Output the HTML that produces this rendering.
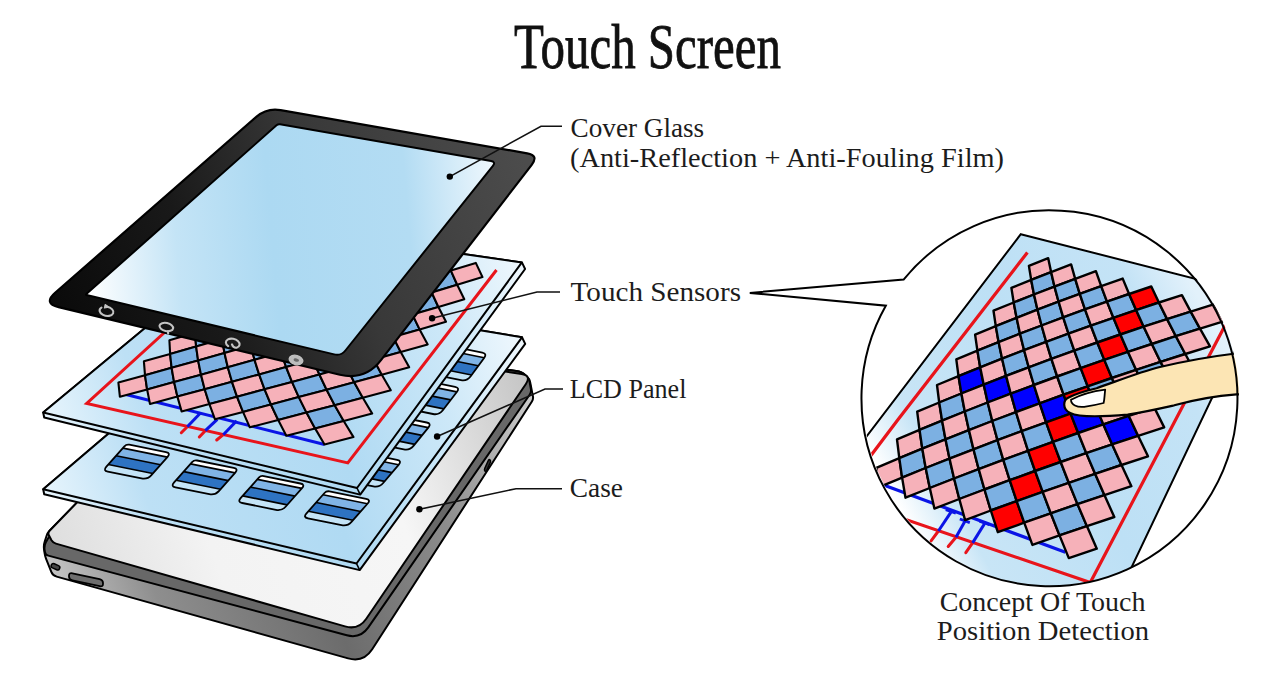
<!DOCTYPE html>
<html><head><meta charset="utf-8"><title>Touch Screen</title>
<style>html,body{margin:0;padding:0;background:#fff;overflow:hidden}svg{display:block}</style></head>
<body><svg width="1287" height="675" viewBox="0 0 1287 675"><defs>
<linearGradient id="gScreen" gradientUnits="userSpaceOnUse" x1="85" y1="250" x2="500" y2="215">
<stop offset="0" stop-color="#ffffff"/><stop offset="0.22" stop-color="#c4e4f6"/><stop offset="0.45" stop-color="#acd9f2"/><stop offset="0.78" stop-color="#b3dcf3"/><stop offset="1" stop-color="#f0f8fd"/></linearGradient>
<linearGradient id="gBezel" gradientUnits="userSpaceOnUse" x1="60" y1="330" x2="520" y2="150">
<stop offset="0" stop-color="#0a0a0a"/><stop offset="0.3" stop-color="#191919"/><stop offset="0.6" stop-color="#383838"/><stop offset="1" stop-color="#4c4c4c"/></linearGradient>
<linearGradient id="gSheet" gradientUnits="userSpaceOnUse" x1="40" y1="420" x2="520" y2="260">
<stop offset="0" stop-color="#eaf6fd"/><stop offset="0.2" stop-color="#bde0f5"/><stop offset="0.55" stop-color="#b0daf3"/><stop offset="0.82" stop-color="#cde8f8"/><stop offset="1" stop-color="#eef7fd"/></linearGradient>
<linearGradient id="gSheet2" gradientUnits="userSpaceOnUse" x1="40" y1="500" x2="520" y2="340">
<stop offset="0" stop-color="#eaf6fd"/><stop offset="0.2" stop-color="#bde0f5"/><stop offset="0.55" stop-color="#b0daf3"/><stop offset="0.82" stop-color="#cde8f8"/><stop offset="1" stop-color="#eef7fd"/></linearGradient>
<linearGradient id="gCaseTop" gradientUnits="userSpaceOnUse" x1="50" y1="540" x2="525" y2="380">
<stop offset="0" stop-color="#dedede"/><stop offset="0.3" stop-color="#f3f3f3"/><stop offset="0.68" stop-color="#f6f6f6"/><stop offset="1" stop-color="#c6c6c6"/></linearGradient>
<linearGradient id="gCaseSide" gradientUnits="userSpaceOnUse" x1="50" y1="570" x2="530" y2="400">
<stop offset="0" stop-color="#c4c4c4"/><stop offset="0.18" stop-color="#8e8e8e"/><stop offset="0.5" stop-color="#6c6c6c"/><stop offset="0.76" stop-color="#8c8c8c"/><stop offset="1" stop-color="#cacaca"/></linearGradient>
<linearGradient id="gCircSheet" gradientUnits="userSpaceOnUse" x1="880" y1="470" x2="1200" y2="300">
<stop offset="0" stop-color="#ffffff"/><stop offset="0.14" stop-color="#c8e5f6"/><stop offset="0.5" stop-color="#bde0f5"/><stop offset="0.85" stop-color="#c4e3f6"/><stop offset="1" stop-color="#e2f1fb"/></linearGradient>
<clipPath id="cCirc"><circle cx="1051" cy="398" r="188"/></clipPath>
</defs>
<path d="M244.1 329.9L516.1 371.1Q522 372 525.4 375.1L527.3 377Q529.5 379 530.1 381.9L532.9 396.1Q533.5 399 531.9 401.5L372.2 649.3Q363.6 662.7 348.1 658.4L56.7 576.6Q52.8 575.5 51.3 571.8L46.1 558.8Q45 556 44.6 553L44 549Q43.5 545 44.8 541.2L46.6 535.8Q47.5 533 49.6 530.8Z" fill="url(#gCaseSide)" stroke="#000" stroke-width="2" stroke-linejoin="round"/>
<path d="M244.1 329.9L516.1 371.1Q522 372 525.1 375.1L526.9 376.9Q529 379 529.6 381.9L530.9 389.1Q531.5 392 529.8 394.5L368.3 627.4Q360.3 638.9 346.8 635.3L48.3 555.6Q45.4 554.8 44.9 551.8L44.6 550Q44 546 45.8 542.4L46.7 540.7Q48 538 50.1 535.8Z" fill="#686868" stroke="#000" stroke-width="2" stroke-linejoin="round"/>
<path d="M244.1 329.9L521.6 374.1Q531.5 375.7 525.9 384L366.3 618.7Q358.4 630.3 345 626.4L55.9 543.6Q53 542.8 51.5 540.2L49 535.6Q47.5 533 49.6 530.8Z" fill="url(#gCaseTop)" stroke="#000" stroke-width="2" stroke-linejoin="round"/>
<rect x="51" y="564.5" width="9" height="4.5" rx="2.2" transform="rotate(24 55.5 566.7)" fill="#444" stroke="#000" stroke-width="1.5"/>
<path d="M69 575.6Q69 572.5 72.4 573.3L99.6 579.2Q103 580 103 583.1L103 583.9Q103 587 99.6 586.2L72.4 580.3Q69 579.5 69 576.4Z" fill="#6e6e6e" stroke="#000" stroke-width="1.8"/>
<path d="M488.2 460.8Q489 459 489.9 459.9L490.1 460.1Q491 461 490.2 462.8L486.8 470.2Q486 472 485.1 471.1L484.9 470.9Q484 470 484.8 468.2Z" fill="#333" stroke="#000" stroke-width="1.5"/>
<polygon points="43.2,489.2 270.6,295.4 522,337.3 525.2,343.9 359.7,570.1 44.2,494.2" fill="url(#gSheet2)" stroke="#000" stroke-width="2" stroke-linejoin="round"/>
<polygon points="43.2,489.2 270.6,295.4 522,337.3 356.5,563.5" fill="url(#gSheet2)" stroke="#000" stroke-width="2" stroke-linejoin="round"/>
<line x1="356.5" y1="563.5" x2="359.7" y2="570.1" stroke="#000" stroke-width="1.6"/>
<clipPath id="cb04"><path d="M260.4 301.2Q262.2 298.8 265.1 299.4L301.8 306.8Q306.7 307.8 303.7 311.9L289.9 330.7Q286.4 335.5 280.5 334.3L246.8 327.5Q241.9 326.5 244.8 322.5Z"/></clipPath>
<g clip-path="url(#cb04)"><path d="M260.4 301.2Q262.2 298.8 265.1 299.4L301.8 306.8Q306.7 307.8 303.7 311.9L289.9 330.7Q286.4 335.5 280.5 334.3L246.8 327.5Q241.9 326.5 244.8 322.5Z" fill="#cfe7f7"/><polygon points="262.2,298.8 306.7,307.8 303.6,312 259.1,303" fill="#ffffff"/><polygon points="259.1,303 303.6,312 297.7,320 253.2,311" fill="#80b4e6"/><polygon points="253.2,311 297.7,320 291,329.2 246.5,320.2" fill="#2e73c2"/><polygon points="246.5,320.2 291,329.2 286.4,335.5 241.9,326.5" fill="#c4e4f7"/><line x1="259.1" y1="303" x2="303.6" y2="312" stroke="#000" stroke-width="1.6"/><line x1="253.2" y1="311" x2="297.7" y2="320" stroke="#000" stroke-width="1.6"/><line x1="246.5" y1="320.2" x2="291" y2="329.2" stroke="#000" stroke-width="1.6"/></g>
<path d="M260.4 301.2Q262.2 298.8 265.1 299.4L301.8 306.8Q306.7 307.8 303.7 311.9L289.9 330.7Q286.4 335.5 280.5 334.3L246.8 327.5Q241.9 326.5 244.8 322.5Z" fill="none" stroke="#000" stroke-width="1.8"/>
<clipPath id="cb14"><path d="M321.4 316.7Q323.2 314.3 326.1 314.9L362.8 322.3Q367.7 323.3 364.7 327.3L350.9 346.2Q347.4 351 341.5 349.8L307.8 343Q302.9 342 305.9 338Z"/></clipPath>
<g clip-path="url(#cb14)"><path d="M321.4 316.7Q323.2 314.3 326.1 314.9L362.8 322.3Q367.7 323.3 364.7 327.3L350.9 346.2Q347.4 351 341.5 349.8L307.8 343Q302.9 342 305.9 338Z" fill="#cfe7f7"/><polygon points="323.2,314.3 367.7,323.3 364.7,327.5 320.2,318.5" fill="#ffffff"/><polygon points="320.2,318.5 364.7,327.5 358.8,335.5 314.3,326.5" fill="#80b4e6"/><polygon points="314.3,326.5 358.8,335.5 352.1,344.6 307.6,335.6" fill="#2e73c2"/><polygon points="307.6,335.6 352.1,344.6 347.4,351 302.9,342" fill="#c4e4f7"/><line x1="320.2" y1="318.5" x2="364.7" y2="327.5" stroke="#000" stroke-width="1.6"/><line x1="314.3" y1="326.5" x2="358.8" y2="335.5" stroke="#000" stroke-width="1.6"/><line x1="307.6" y1="335.6" x2="352.1" y2="344.6" stroke="#000" stroke-width="1.6"/></g>
<path d="M321.4 316.7Q323.2 314.3 326.1 314.9L362.8 322.3Q367.7 323.3 364.7 327.3L350.9 346.2Q347.4 351 341.5 349.8L307.8 343Q302.9 342 305.9 338Z" fill="none" stroke="#000" stroke-width="1.8"/>
<clipPath id="cb24"><path d="M381.6 332Q383.4 329.6 386.3 330.2L423 337.6Q427.9 338.6 424.9 342.6L411.1 361.4Q407.6 366.3 401.7 365.1L368 358.3Q363.1 357.3 366 353.2Z"/></clipPath>
<g clip-path="url(#cb24)"><path d="M381.6 332Q383.4 329.6 386.3 330.2L423 337.6Q427.9 338.6 424.9 342.6L411.1 361.4Q407.6 366.3 401.7 365.1L368 358.3Q363.1 357.3 366 353.2Z" fill="#cfe7f7"/><polygon points="383.4,329.6 427.9,338.6 424.8,342.7 380.3,333.7" fill="#ffffff"/><polygon points="380.3,333.7 424.8,342.7 418.9,350.8 374.4,341.8" fill="#80b4e6"/><polygon points="374.4,341.8 418.9,350.8 412.2,359.9 367.7,350.9" fill="#2e73c2"/><polygon points="367.7,350.9 412.2,359.9 407.6,366.3 363.1,357.3" fill="#c4e4f7"/><line x1="380.3" y1="333.7" x2="424.8" y2="342.7" stroke="#000" stroke-width="1.6"/><line x1="374.4" y1="341.8" x2="418.9" y2="350.8" stroke="#000" stroke-width="1.6"/><line x1="367.7" y1="350.9" x2="412.2" y2="359.9" stroke="#000" stroke-width="1.6"/></g>
<path d="M381.6 332Q383.4 329.6 386.3 330.2L423 337.6Q427.9 338.6 424.9 342.6L411.1 361.4Q407.6 366.3 401.7 365.1L368 358.3Q363.1 357.3 366 353.2Z" fill="none" stroke="#000" stroke-width="1.8"/>
<clipPath id="cb34"><path d="M440.9 347Q442.7 344.6 445.7 345.2L482.3 352.6Q487.2 353.6 484.3 357.7L470.5 376.5Q466.9 381.3 461 380.1L427.3 373.3Q422.4 372.3 425.4 368.3Z"/></clipPath>
<g clip-path="url(#cb34)"><path d="M440.9 347Q442.7 344.6 445.7 345.2L482.3 352.6Q487.2 353.6 484.3 357.7L470.5 376.5Q466.9 381.3 461 380.1L427.3 373.3Q422.4 372.3 425.4 368.3Z" fill="#cfe7f7"/><polygon points="442.7,344.6 487.2,353.6 484.2,357.8 439.7,348.8" fill="#ffffff"/><polygon points="439.7,348.8 484.2,357.8 478.3,365.8 433.8,356.8" fill="#80b4e6"/><polygon points="433.8,356.8 478.3,365.8 471.6,375 427.1,366" fill="#2e73c2"/><polygon points="427.1,366 471.6,375 466.9,381.3 422.4,372.3" fill="#c4e4f7"/><line x1="439.7" y1="348.8" x2="484.2" y2="357.8" stroke="#000" stroke-width="1.6"/><line x1="433.8" y1="356.8" x2="478.3" y2="365.8" stroke="#000" stroke-width="1.6"/><line x1="427.1" y1="366" x2="471.6" y2="375" stroke="#000" stroke-width="1.6"/></g>
<path d="M440.9 347Q442.7 344.6 445.7 345.2L482.3 352.6Q487.2 353.6 484.3 357.7L470.5 376.5Q466.9 381.3 461 380.1L427.3 373.3Q422.4 372.3 425.4 368.3Z" fill="none" stroke="#000" stroke-width="1.8"/>
<clipPath id="cb03"><path d="M228.6 335.1Q230.4 332.8 233.4 333.4L270 340.8Q274.9 341.8 271.9 345.7L257.5 364.4Q253.8 369.2 247.9 368L214.2 361.1Q209.3 360.2 212.4 356.2Z"/></clipPath>
<g clip-path="url(#cb03)"><path d="M228.6 335.1Q230.4 332.8 233.4 333.4L270 340.8Q274.9 341.8 271.9 345.7L257.5 364.4Q253.8 369.2 247.9 368L214.2 361.1Q209.3 360.2 212.4 356.2Z" fill="#cfe7f7"/><polygon points="230.4,332.8 274.9,341.8 271.8,345.9 227.3,336.9" fill="#ffffff"/><polygon points="227.3,336.9 271.8,345.9 265.6,353.8 221.1,344.8" fill="#80b4e6"/><polygon points="221.1,344.8 265.6,353.8 258.7,362.9 214.2,353.9" fill="#2e73c2"/><polygon points="214.2,353.9 258.7,362.9 253.8,369.2 209.3,360.2" fill="#c4e4f7"/><line x1="227.3" y1="336.9" x2="271.8" y2="345.9" stroke="#000" stroke-width="1.6"/><line x1="221.1" y1="344.8" x2="265.6" y2="353.8" stroke="#000" stroke-width="1.6"/><line x1="214.2" y1="353.9" x2="258.7" y2="362.9" stroke="#000" stroke-width="1.6"/></g>
<path d="M228.6 335.1Q230.4 332.8 233.4 333.4L270 340.8Q274.9 341.8 271.9 345.7L257.5 364.4Q253.8 369.2 247.9 368L214.2 361.1Q209.3 360.2 212.4 356.2Z" fill="none" stroke="#000" stroke-width="1.8"/>
<clipPath id="cb13"><path d="M291.2 350.7Q293 348.3 295.9 348.9L332.6 356.3Q337.5 357.3 334.5 361.3L320.1 380Q316.4 384.7 310.5 383.5L276.8 376.7Q271.9 375.7 275 371.8Z"/></clipPath>
<g clip-path="url(#cb13)"><path d="M291.2 350.7Q293 348.3 295.9 348.9L332.6 356.3Q337.5 357.3 334.5 361.3L320.1 380Q316.4 384.7 310.5 383.5L276.8 376.7Q271.9 375.7 275 371.8Z" fill="#cfe7f7"/><polygon points="293,348.3 337.5,357.3 334.3,361.4 289.8,352.4" fill="#ffffff"/><polygon points="289.8,352.4 334.3,361.4 328.2,369.4 283.7,360.4" fill="#80b4e6"/><polygon points="283.7,360.4 328.2,369.4 321.3,378.4 276.8,369.4" fill="#2e73c2"/><polygon points="276.8,369.4 321.3,378.4 316.4,384.7 271.9,375.7" fill="#c4e4f7"/><line x1="289.8" y1="352.4" x2="334.3" y2="361.4" stroke="#000" stroke-width="1.6"/><line x1="283.7" y1="360.4" x2="328.2" y2="369.4" stroke="#000" stroke-width="1.6"/><line x1="276.8" y1="369.4" x2="321.3" y2="378.4" stroke="#000" stroke-width="1.6"/></g>
<path d="M291.2 350.7Q293 348.3 295.9 348.9L332.6 356.3Q337.5 357.3 334.5 361.3L320.1 380Q316.4 384.7 310.5 383.5L276.8 376.7Q271.9 375.7 275 371.8Z" fill="none" stroke="#000" stroke-width="1.8"/>
<clipPath id="cb23"><path d="M352.9 366.1Q354.7 363.7 357.6 364.3L394.3 371.7Q399.2 372.7 396.1 376.6L381.7 395.3Q378.1 400.1 372.2 398.9L338.5 392.1Q333.6 391.1 336.6 387.1Z"/></clipPath>
<g clip-path="url(#cb23)"><path d="M352.9 366.1Q354.7 363.7 357.6 364.3L394.3 371.7Q399.2 372.7 396.1 376.6L381.7 395.3Q378.1 400.1 372.2 398.9L338.5 392.1Q333.6 391.1 336.6 387.1Z" fill="#cfe7f7"/><polygon points="354.7,363.7 399.2,372.7 396,376.8 351.5,367.8" fill="#ffffff"/><polygon points="351.5,367.8 396,376.8 389.9,384.7 345.4,375.7" fill="#80b4e6"/><polygon points="345.4,375.7 389.9,384.7 382.9,393.8 338.4,384.8" fill="#2e73c2"/><polygon points="338.4,384.8 382.9,393.8 378.1,400.1 333.6,391.1" fill="#c4e4f7"/><line x1="351.5" y1="367.8" x2="396" y2="376.8" stroke="#000" stroke-width="1.6"/><line x1="345.4" y1="375.7" x2="389.9" y2="384.7" stroke="#000" stroke-width="1.6"/><line x1="338.4" y1="384.8" x2="382.9" y2="393.8" stroke="#000" stroke-width="1.6"/></g>
<path d="M352.9 366.1Q354.7 363.7 357.6 364.3L394.3 371.7Q399.2 372.7 396.1 376.6L381.7 395.3Q378.1 400.1 372.2 398.9L338.5 392.1Q333.6 391.1 336.6 387.1Z" fill="none" stroke="#000" stroke-width="1.8"/>
<clipPath id="cb33"><path d="M413.7 381.2Q415.5 378.8 418.4 379.4L455.1 386.8Q460 387.8 457 391.8L442.6 410.5Q438.9 415.2 433 414L399.3 407.2Q394.4 406.2 397.5 402.3Z"/></clipPath>
<g clip-path="url(#cb33)"><path d="M413.7 381.2Q415.5 378.8 418.4 379.4L455.1 386.8Q460 387.8 457 391.8L442.6 410.5Q438.9 415.2 433 414L399.3 407.2Q394.4 406.2 397.5 402.3Z" fill="#cfe7f7"/><polygon points="415.5,378.8 460,387.8 456.8,391.9 412.3,382.9" fill="#ffffff"/><polygon points="412.3,382.9 456.8,391.9 450.7,399.9 406.2,390.9" fill="#80b4e6"/><polygon points="406.2,390.9 450.7,399.9 443.8,408.9 399.3,399.9" fill="#2e73c2"/><polygon points="399.3,399.9 443.8,408.9 438.9,415.2 394.4,406.2" fill="#c4e4f7"/><line x1="412.3" y1="382.9" x2="456.8" y2="391.9" stroke="#000" stroke-width="1.6"/><line x1="406.2" y1="390.9" x2="450.7" y2="399.9" stroke="#000" stroke-width="1.6"/><line x1="399.3" y1="399.9" x2="443.8" y2="408.9" stroke="#000" stroke-width="1.6"/></g>
<path d="M413.7 381.2Q415.5 378.8 418.4 379.4L455.1 386.8Q460 387.8 457 391.8L442.6 410.5Q438.9 415.2 433 414L399.3 407.2Q394.4 406.2 397.5 402.3Z" fill="none" stroke="#000" stroke-width="1.8"/>
<clipPath id="cb02"><path d="M195.4 370.5Q197.3 368.2 200.2 368.8L236.9 376.2Q241.8 377.2 238.6 381.1L223.7 399.6Q219.9 404.3 214 403.1L180.3 396.3Q175.4 395.3 178.5 391.4Z"/></clipPath>
<g clip-path="url(#cb02)"><path d="M195.4 370.5Q197.3 368.2 200.2 368.8L236.9 376.2Q241.8 377.2 238.6 381.1L223.7 399.6Q219.9 404.3 214 403.1L180.3 396.3Q175.4 395.3 178.5 391.4Z" fill="#cfe7f7"/><polygon points="197.3,368.2 241.8,377.2 238.5,381.3 194,372.3" fill="#ffffff"/><polygon points="194,372.3 238.5,381.3 232.1,389.1 187.6,380.1" fill="#80b4e6"/><polygon points="187.6,380.1 232.1,389.1 224.9,398.1 180.4,389.1" fill="#2e73c2"/><polygon points="180.4,389.1 224.9,398.1 219.9,404.3 175.4,395.3" fill="#c4e4f7"/><line x1="194" y1="372.3" x2="238.5" y2="381.3" stroke="#000" stroke-width="1.6"/><line x1="187.6" y1="380.1" x2="232.1" y2="389.1" stroke="#000" stroke-width="1.6"/><line x1="180.4" y1="389.1" x2="224.9" y2="398.1" stroke="#000" stroke-width="1.6"/></g>
<path d="M195.4 370.5Q197.3 368.2 200.2 368.8L236.9 376.2Q241.8 377.2 238.6 381.1L223.7 399.6Q219.9 404.3 214 403.1L180.3 396.3Q175.4 395.3 178.5 391.4Z" fill="none" stroke="#000" stroke-width="1.8"/>
<clipPath id="cb12"><path d="M259.6 386.2Q261.5 383.9 264.4 384.5L301.1 391.9Q306 392.9 302.8 396.8L287.9 415.3Q284.1 420 278.2 418.8L244.5 412Q239.6 411 242.7 407.1Z"/></clipPath>
<g clip-path="url(#cb12)"><path d="M259.6 386.2Q261.5 383.9 264.4 384.5L301.1 391.9Q306 392.9 302.8 396.8L287.9 415.3Q284.1 420 278.2 418.8L244.5 412Q239.6 411 242.7 407.1Z" fill="#cfe7f7"/><polygon points="261.5,383.9 306,392.9 302.7,396.9 258.2,387.9" fill="#ffffff"/><polygon points="258.2,387.9 302.7,396.9 296.4,404.8 251.9,395.8" fill="#80b4e6"/><polygon points="251.9,395.8 296.4,404.8 289.1,413.7 244.6,404.7" fill="#2e73c2"/><polygon points="244.6,404.7 289.1,413.7 284.1,420 239.6,411" fill="#c4e4f7"/><line x1="258.2" y1="387.9" x2="302.7" y2="396.9" stroke="#000" stroke-width="1.6"/><line x1="251.9" y1="395.8" x2="296.4" y2="404.8" stroke="#000" stroke-width="1.6"/><line x1="244.6" y1="404.7" x2="289.1" y2="413.7" stroke="#000" stroke-width="1.6"/></g>
<path d="M259.6 386.2Q261.5 383.9 264.4 384.5L301.1 391.9Q306 392.9 302.8 396.8L287.9 415.3Q284.1 420 278.2 418.8L244.5 412Q239.6 411 242.7 407.1Z" fill="none" stroke="#000" stroke-width="1.8"/>
<clipPath id="cb22"><path d="M322.9 401.6Q324.8 399.3 327.7 399.9L364.4 407.3Q369.3 408.3 366.1 412.2L351.1 430.7Q347.4 435.4 341.5 434.2L307.8 427.4Q302.9 426.4 306 422.5Z"/></clipPath>
<g clip-path="url(#cb22)"><path d="M322.9 401.6Q324.8 399.3 327.7 399.9L364.4 407.3Q369.3 408.3 366.1 412.2L351.1 430.7Q347.4 435.4 341.5 434.2L307.8 427.4Q302.9 426.4 306 422.5Z" fill="#cfe7f7"/><polygon points="324.8,399.3 369.3,408.3 366,412.4 321.5,403.4" fill="#ffffff"/><polygon points="321.5,403.4 366,412.4 359.6,420.2 315.1,411.2" fill="#80b4e6"/><polygon points="315.1,411.2 359.6,420.2 352.4,429.2 307.9,420.2" fill="#2e73c2"/><polygon points="307.9,420.2 352.4,429.2 347.4,435.4 302.9,426.4" fill="#c4e4f7"/><line x1="321.5" y1="403.4" x2="366" y2="412.4" stroke="#000" stroke-width="1.6"/><line x1="315.1" y1="411.2" x2="359.6" y2="420.2" stroke="#000" stroke-width="1.6"/><line x1="307.9" y1="420.2" x2="352.4" y2="429.2" stroke="#000" stroke-width="1.6"/></g>
<path d="M322.9 401.6Q324.8 399.3 327.7 399.9L364.4 407.3Q369.3 408.3 366.1 412.2L351.1 430.7Q347.4 435.4 341.5 434.2L307.8 427.4Q302.9 426.4 306 422.5Z" fill="none" stroke="#000" stroke-width="1.8"/>
<clipPath id="cb32"><path d="M385.2 416.8Q387.1 414.5 390.1 415.1L426.7 422.5Q431.6 423.5 428.5 427.4L413.5 445.9Q409.7 450.6 403.8 449.4L370.1 442.6Q365.2 441.6 368.4 437.7Z"/></clipPath>
<g clip-path="url(#cb32)"><path d="M385.2 416.8Q387.1 414.5 390.1 415.1L426.7 422.5Q431.6 423.5 428.5 427.4L413.5 445.9Q409.7 450.6 403.8 449.4L370.1 442.6Q365.2 441.6 368.4 437.7Z" fill="#cfe7f7"/><polygon points="387.1,414.5 431.6,423.5 428.3,427.6 383.8,418.6" fill="#ffffff"/><polygon points="383.8,418.6 428.3,427.6 422,435.4 377.5,426.4" fill="#80b4e6"/><polygon points="377.5,426.4 422,435.4 414.8,444.4 370.3,435.4" fill="#2e73c2"/><polygon points="370.3,435.4 414.8,444.4 409.7,450.6 365.2,441.6" fill="#c4e4f7"/><line x1="383.8" y1="418.6" x2="428.3" y2="427.6" stroke="#000" stroke-width="1.6"/><line x1="377.5" y1="426.4" x2="422" y2="435.4" stroke="#000" stroke-width="1.6"/><line x1="370.3" y1="435.4" x2="414.8" y2="444.4" stroke="#000" stroke-width="1.6"/></g>
<path d="M385.2 416.8Q387.1 414.5 390.1 415.1L426.7 422.5Q431.6 423.5 428.5 427.4L413.5 445.9Q409.7 450.6 403.8 449.4L370.1 442.6Q365.2 441.6 368.4 437.7Z" fill="none" stroke="#000" stroke-width="1.8"/>
<clipPath id="cb01"><path d="M160.7 407.6Q162.6 405.3 165.6 405.9L202.2 413.3Q207.1 414.3 203.9 418.1L188.3 436.5Q184.4 441.1 178.6 439.9L144.8 433.1Q139.9 432.1 143.2 428.3Z"/></clipPath>
<g clip-path="url(#cb01)"><path d="M160.7 407.6Q162.6 405.3 165.6 405.9L202.2 413.3Q207.1 414.3 203.9 418.1L188.3 436.5Q184.4 441.1 178.6 439.9L144.8 433.1Q139.9 432.1 143.2 428.3Z" fill="#cfe7f7"/><polygon points="162.6,405.3 207.1,414.3 203.7,418.3 159.2,409.3" fill="#ffffff"/><polygon points="159.2,409.3 203.7,418.3 197.2,426.1 152.7,417.1" fill="#80b4e6"/><polygon points="152.7,417.1 197.2,426.1 189.7,434.9 145.2,425.9" fill="#2e73c2"/><polygon points="145.2,425.9 189.7,434.9 184.4,441.1 139.9,432.1" fill="#c4e4f7"/><line x1="159.2" y1="409.3" x2="203.7" y2="418.3" stroke="#000" stroke-width="1.6"/><line x1="152.7" y1="417.1" x2="197.2" y2="426.1" stroke="#000" stroke-width="1.6"/><line x1="145.2" y1="425.9" x2="189.7" y2="434.9" stroke="#000" stroke-width="1.6"/></g>
<path d="M160.7 407.6Q162.6 405.3 165.6 405.9L202.2 413.3Q207.1 414.3 203.9 418.1L188.3 436.5Q184.4 441.1 178.6 439.9L144.8 433.1Q139.9 432.1 143.2 428.3Z" fill="none" stroke="#000" stroke-width="1.8"/>
<clipPath id="cb11"><path d="M226.6 423.3Q228.6 421 231.5 421.6L268.2 429Q273.1 430 269.8 433.8L254.2 452.2Q250.4 456.8 244.5 455.6L210.8 448.8Q205.9 447.8 209.1 444Z"/></clipPath>
<g clip-path="url(#cb11)"><path d="M226.6 423.3Q228.6 421 231.5 421.6L268.2 429Q273.1 430 269.8 433.8L254.2 452.2Q250.4 456.8 244.5 455.6L210.8 448.8Q205.9 447.8 209.1 444Z" fill="#cfe7f7"/><polygon points="228.6,421 273.1,430 269.7,434 225.2,425" fill="#ffffff"/><polygon points="225.2,425 269.7,434 263.1,441.8 218.6,432.8" fill="#80b4e6"/><polygon points="218.6,432.8 263.1,441.8 255.6,450.7 211.1,441.7" fill="#2e73c2"/><polygon points="211.1,441.7 255.6,450.7 250.4,456.8 205.9,447.8" fill="#c4e4f7"/><line x1="225.2" y1="425" x2="269.7" y2="434" stroke="#000" stroke-width="1.6"/><line x1="218.6" y1="432.8" x2="263.1" y2="441.8" stroke="#000" stroke-width="1.6"/><line x1="211.1" y1="441.7" x2="255.6" y2="450.7" stroke="#000" stroke-width="1.6"/></g>
<path d="M226.6 423.3Q228.6 421 231.5 421.6L268.2 429Q273.1 430 269.8 433.8L254.2 452.2Q250.4 456.8 244.5 455.6L210.8 448.8Q205.9 447.8 209.1 444Z" fill="none" stroke="#000" stroke-width="1.8"/>
<clipPath id="cb21"><path d="M291.6 438.8Q293.5 436.5 296.4 437.1L333.1 444.5Q338 445.5 334.8 449.3L319.2 467.7Q315.3 472.3 309.4 471.1L275.7 464.3Q270.8 463.3 274 459.5Z"/></clipPath>
<g clip-path="url(#cb21)"><path d="M291.6 438.8Q293.5 436.5 296.4 437.1L333.1 444.5Q338 445.5 334.8 449.3L319.2 467.7Q315.3 472.3 309.4 471.1L275.7 464.3Q270.8 463.3 274 459.5Z" fill="#cfe7f7"/><polygon points="293.5,436.5 338,445.5 334.6,449.5 290.1,440.5" fill="#ffffff"/><polygon points="290.1,440.5 334.6,449.5 328,457.3 283.5,448.3" fill="#80b4e6"/><polygon points="283.5,448.3 328,457.3 320.5,466.2 276,457.2" fill="#2e73c2"/><polygon points="276,457.2 320.5,466.2 315.3,472.3 270.8,463.3" fill="#c4e4f7"/><line x1="290.1" y1="440.5" x2="334.6" y2="449.5" stroke="#000" stroke-width="1.6"/><line x1="283.5" y1="448.3" x2="328" y2="457.3" stroke="#000" stroke-width="1.6"/><line x1="276" y1="457.2" x2="320.5" y2="466.2" stroke="#000" stroke-width="1.6"/></g>
<path d="M291.6 438.8Q293.5 436.5 296.4 437.1L333.1 444.5Q338 445.5 334.8 449.3L319.2 467.7Q315.3 472.3 309.4 471.1L275.7 464.3Q270.8 463.3 274 459.5Z" fill="none" stroke="#000" stroke-width="1.8"/>
<clipPath id="cb31"><path d="M355.5 454.1Q357.5 451.8 360.4 452.4L397.1 459.8Q402 460.8 398.8 464.6L383.2 483Q379.3 487.6 373.4 486.4L339.7 479.6Q334.8 478.6 338 474.8Z"/></clipPath>
<g clip-path="url(#cb31)"><path d="M355.5 454.1Q357.5 451.8 360.4 452.4L397.1 459.8Q402 460.8 398.8 464.6L383.2 483Q379.3 487.6 373.4 486.4L339.7 479.6Q334.8 478.6 338 474.8Z" fill="#cfe7f7"/><polygon points="357.5,451.8 402,460.8 398.6,464.8 354.1,455.8" fill="#ffffff"/><polygon points="354.1,455.8 398.6,464.8 392,472.6 347.5,463.6" fill="#80b4e6"/><polygon points="347.5,463.6 392,472.6 384.5,481.4 340,472.4" fill="#2e73c2"/><polygon points="340,472.4 384.5,481.4 379.3,487.6 334.8,478.6" fill="#c4e4f7"/><line x1="354.1" y1="455.8" x2="398.6" y2="464.8" stroke="#000" stroke-width="1.6"/><line x1="347.5" y1="463.6" x2="392" y2="472.6" stroke="#000" stroke-width="1.6"/><line x1="340" y1="472.4" x2="384.5" y2="481.4" stroke="#000" stroke-width="1.6"/></g>
<path d="M355.5 454.1Q357.5 451.8 360.4 452.4L397.1 459.8Q402 460.8 398.8 464.6L383.2 483Q379.3 487.6 373.4 486.4L339.7 479.6Q334.8 478.6 338 474.8Z" fill="none" stroke="#000" stroke-width="1.8"/>
<clipPath id="cb00"><path d="M124.4 446.3Q126.4 444.1 129.3 444.7L166 452.1Q170.9 453.1 167.6 456.8L151.4 475.1Q147.4 479.6 141.5 478.4L107.8 471.6Q102.9 470.6 106.2 466.8Z"/></clipPath>
<g clip-path="url(#cb00)"><path d="M124.4 446.3Q126.4 444.1 129.3 444.7L166 452.1Q170.9 453.1 167.6 456.8L151.4 475.1Q147.4 479.6 141.5 478.4L107.8 471.6Q102.9 470.6 106.2 466.8Z" fill="#cfe7f7"/><polygon points="126.4,444.1 170.9,453.1 167.4,457.1 122.9,448.1" fill="#ffffff"/><polygon points="122.9,448.1 167.4,457.1 160.6,464.7 116.1,455.7" fill="#80b4e6"/><polygon points="116.1,455.7 160.6,464.7 152.8,473.5 108.3,464.5" fill="#2e73c2"/><polygon points="108.3,464.5 152.8,473.5 147.4,479.6 102.9,470.6" fill="#c4e4f7"/><line x1="122.9" y1="448.1" x2="167.4" y2="457.1" stroke="#000" stroke-width="1.6"/><line x1="116.1" y1="455.7" x2="160.6" y2="464.7" stroke="#000" stroke-width="1.6"/><line x1="108.3" y1="464.5" x2="152.8" y2="473.5" stroke="#000" stroke-width="1.6"/></g>
<path d="M124.4 446.3Q126.4 444.1 129.3 444.7L166 452.1Q170.9 453.1 167.6 456.8L151.4 475.1Q147.4 479.6 141.5 478.4L107.8 471.6Q102.9 470.6 106.2 466.8Z" fill="none" stroke="#000" stroke-width="1.8"/>
<clipPath id="cb10"><path d="M192.1 462.1Q194.1 459.9 197.1 460.5L233.7 467.9Q238.6 468.9 235.3 472.6L219.1 490.9Q215.1 495.4 209.3 494.2L175.5 487.4Q170.6 486.4 173.9 482.7Z"/></clipPath>
<g clip-path="url(#cb10)"><path d="M192.1 462.1Q194.1 459.9 197.1 460.5L233.7 467.9Q238.6 468.9 235.3 472.6L219.1 490.9Q215.1 495.4 209.3 494.2L175.5 487.4Q170.6 486.4 173.9 482.7Z" fill="#cfe7f7"/><polygon points="194.1,459.9 238.6,468.9 235.1,472.9 190.6,463.9" fill="#ffffff"/><polygon points="190.6,463.9 235.1,472.9 228.3,480.6 183.8,471.6" fill="#80b4e6"/><polygon points="183.8,471.6 228.3,480.6 220.5,489.3 176,480.3" fill="#2e73c2"/><polygon points="176,480.3 220.5,489.3 215.1,495.4 170.6,486.4" fill="#c4e4f7"/><line x1="190.6" y1="463.9" x2="235.1" y2="472.9" stroke="#000" stroke-width="1.6"/><line x1="183.8" y1="471.6" x2="228.3" y2="480.6" stroke="#000" stroke-width="1.6"/><line x1="176" y1="480.3" x2="220.5" y2="489.3" stroke="#000" stroke-width="1.6"/></g>
<path d="M192.1 462.1Q194.1 459.9 197.1 460.5L233.7 467.9Q238.6 468.9 235.3 472.6L219.1 490.9Q215.1 495.4 209.3 494.2L175.5 487.4Q170.6 486.4 173.9 482.7Z" fill="none" stroke="#000" stroke-width="1.8"/>
<clipPath id="cb20"><path d="M258.8 477.7Q260.8 475.5 263.8 476.1L300.4 483.5Q305.3 484.5 302 488.2L285.8 506.5Q281.8 511 275.9 509.8L242.2 503Q237.3 502 240.6 498.2Z"/></clipPath>
<g clip-path="url(#cb20)"><path d="M258.8 477.7Q260.8 475.5 263.8 476.1L300.4 483.5Q305.3 484.5 302 488.2L285.8 506.5Q281.8 511 275.9 509.8L242.2 503Q237.3 502 240.6 498.2Z" fill="#cfe7f7"/><polygon points="260.8,475.5 305.3,484.5 301.8,488.4 257.3,479.4" fill="#ffffff"/><polygon points="257.3,479.4 301.8,488.4 295,496.1 250.5,487.1" fill="#80b4e6"/><polygon points="250.5,487.1 295,496.1 287.2,504.9 242.7,495.9" fill="#2e73c2"/><polygon points="242.7,495.9 287.2,504.9 281.8,511 237.3,502" fill="#c4e4f7"/><line x1="257.3" y1="479.4" x2="301.8" y2="488.4" stroke="#000" stroke-width="1.6"/><line x1="250.5" y1="487.1" x2="295" y2="496.1" stroke="#000" stroke-width="1.6"/><line x1="242.7" y1="495.9" x2="287.2" y2="504.9" stroke="#000" stroke-width="1.6"/></g>
<path d="M258.8 477.7Q260.8 475.5 263.8 476.1L300.4 483.5Q305.3 484.5 302 488.2L285.8 506.5Q281.8 511 275.9 509.8L242.2 503Q237.3 502 240.6 498.2Z" fill="none" stroke="#000" stroke-width="1.8"/>
<clipPath id="cb30"><path d="M324.5 493Q326.5 490.8 329.5 491.4L366.1 498.8Q371 499.8 367.7 503.5L351.5 521.8Q347.5 526.3 341.6 525.1L307.9 518.3Q303 517.3 306.3 513.6Z"/></clipPath>
<g clip-path="url(#cb30)"><path d="M324.5 493Q326.5 490.8 329.5 491.4L366.1 498.8Q371 499.8 367.7 503.5L351.5 521.8Q347.5 526.3 341.6 525.1L307.9 518.3Q303 517.3 306.3 513.6Z" fill="#cfe7f7"/><polygon points="326.5,490.8 371,499.8 367.5,503.8 323,494.8" fill="#ffffff"/><polygon points="323,494.8 367.5,503.8 360.7,511.5 316.2,502.5" fill="#80b4e6"/><polygon points="316.2,502.5 360.7,511.5 352.9,520.2 308.4,511.2" fill="#2e73c2"/><polygon points="308.4,511.2 352.9,520.2 347.5,526.3 303,517.3" fill="#c4e4f7"/><line x1="323" y1="494.8" x2="367.5" y2="503.8" stroke="#000" stroke-width="1.6"/><line x1="316.2" y1="502.5" x2="360.7" y2="511.5" stroke="#000" stroke-width="1.6"/><line x1="308.4" y1="511.2" x2="352.9" y2="520.2" stroke="#000" stroke-width="1.6"/></g>
<path d="M324.5 493Q326.5 490.8 329.5 491.4L366.1 498.8Q371 499.8 367.7 503.5L351.5 521.8Q347.5 526.3 341.6 525.1L307.9 518.3Q303 517.3 306.3 513.6Z" fill="none" stroke="#000" stroke-width="1.8"/>
<polygon points="43.2,412.5 268,226 521.9,262.4 525.1,269 360.2,494.6 44.2,417.5" fill="url(#gSheet)" stroke="#000" stroke-width="2" stroke-linejoin="round"/>
<polygon points="43.2,412.5 268,226 521.9,262.4 357,488" fill="url(#gSheet)" stroke="#000" stroke-width="2" stroke-linejoin="round"/>
<line x1="357" y1="488" x2="360.2" y2="494.6" stroke="#000" stroke-width="1.6"/>
<polyline points="233,270 86.7,403.5 347.8,462.9 496.5,270" fill="none" stroke="#e8141b" stroke-width="3" stroke-linejoin="miter"/>
<polyline points="126,394.5 324.5,444.5" fill="none" stroke="#0a14e6" stroke-width="3"/>
<line x1="187.3" y1="426.7" x2="181.3" y2="432.7" stroke="#e8141b" stroke-width="3" stroke-linecap="round"/>
<line x1="200.7" y1="412.7" x2="187.3" y2="426.7" stroke="#0a14e6" stroke-width="3"/>
<line x1="205.3" y1="430.7" x2="199.3" y2="437" stroke="#e8141b" stroke-width="3" stroke-linecap="round"/>
<line x1="217.3" y1="419.3" x2="205.3" y2="430.7" stroke="#0a14e6" stroke-width="3"/>
<line x1="223.3" y1="434.7" x2="216.7" y2="440" stroke="#e8141b" stroke-width="3" stroke-linecap="round"/>
<line x1="236.7" y1="420.7" x2="223.3" y2="434.7" stroke="#0a14e6" stroke-width="3"/>
<polygon points="118.4,382.6 145,375.2 147.1,389.4 119.9,396.8" fill="#f6b1b9" stroke="#000" stroke-width="2.1" stroke-linejoin="round"/><polygon points="143.9,361.3 170.1,353.9 171.6,367.8 145,375.2" fill="#f6b1b9" stroke="#000" stroke-width="2.1" stroke-linejoin="round"/><polygon points="145,375.2 171.6,367.8 174.1,382.1 147.1,389.4" fill="#7cb0e2" stroke="#000" stroke-width="2.1" stroke-linejoin="round"/><polygon points="147.1,389.4 174.1,382.1 177.4,396.6 150,404" fill="#f6b1b9" stroke="#000" stroke-width="2.1" stroke-linejoin="round"/><polygon points="169.4,340.2 195,332.8 196.1,346.4 170.1,353.9" fill="#f6b1b9" stroke="#000" stroke-width="2.1" stroke-linejoin="round"/><polygon points="170.1,353.9 196.1,346.4 198.1,360.4 171.6,367.8" fill="#7cb0e2" stroke="#000" stroke-width="2.1" stroke-linejoin="round"/><polygon points="171.6,367.8 198.1,360.4 201,374.7 174.1,382.1" fill="#f6b1b9" stroke="#000" stroke-width="2.1" stroke-linejoin="round"/><polygon points="174.1,382.1 201,374.7 204.7,389.2 177.4,396.6" fill="#7cb0e2" stroke="#000" stroke-width="2.1" stroke-linejoin="round"/><polygon points="177.4,396.6 204.7,389.2 209.4,404.1 181.6,411.4" fill="#f6b1b9" stroke="#000" stroke-width="2.1" stroke-linejoin="round"/><polygon points="194.8,319.4 219.9,311.9 220.5,325.3 195,332.8" fill="#f6b1b9" stroke="#000" stroke-width="2.1" stroke-linejoin="round"/><polygon points="195,332.8 220.5,325.3 222.1,339 196.1,346.4" fill="#7cb0e2" stroke="#000" stroke-width="2.1" stroke-linejoin="round"/><polygon points="196.1,346.4 222.1,339 224.5,353 198.1,360.4" fill="#f6b1b9" stroke="#000" stroke-width="2.1" stroke-linejoin="round"/><polygon points="198.1,360.4 224.5,353 227.8,367.3 201,374.7" fill="#7cb0e2" stroke="#000" stroke-width="2.1" stroke-linejoin="round"/><polygon points="201,374.7 227.8,367.3 232,381.8 204.7,389.2" fill="#f6b1b9" stroke="#000" stroke-width="2.1" stroke-linejoin="round"/><polygon points="204.7,389.2 232,381.8 237,396.7 209.4,404.1" fill="#7cb0e2" stroke="#000" stroke-width="2.1" stroke-linejoin="round"/><polygon points="209.4,404.1 237,396.7 243,411.9 214.9,419.2" fill="#f6b1b9" stroke="#000" stroke-width="2.1" stroke-linejoin="round"/><polygon points="220.1,298.7 244.7,291.2 244.9,304.3 219.9,311.9" fill="#f6b1b9" stroke="#000" stroke-width="2.1" stroke-linejoin="round"/><polygon points="219.9,311.9 244.9,304.3 246,317.8 220.5,325.3" fill="#7cb0e2" stroke="#000" stroke-width="2.1" stroke-linejoin="round"/><polygon points="220.5,325.3 246,317.8 247.9,331.5 222.1,339" fill="#f6b1b9" stroke="#000" stroke-width="2.1" stroke-linejoin="round"/><polygon points="222.1,339 247.9,331.5 250.8,345.5 224.5,353" fill="#7cb0e2" stroke="#000" stroke-width="2.1" stroke-linejoin="round"/><polygon points="224.5,353 250.8,345.5 254.5,359.8 227.8,367.3" fill="#f6b1b9" stroke="#000" stroke-width="2.1" stroke-linejoin="round"/><polygon points="227.8,367.3 254.5,359.8 259.1,374.4 232,381.8" fill="#7cb0e2" stroke="#000" stroke-width="2.1" stroke-linejoin="round"/><polygon points="232,381.8 259.1,374.4 264.6,389.3 237,396.7" fill="#f6b1b9" stroke="#000" stroke-width="2.1" stroke-linejoin="round"/><polygon points="237,396.7 264.6,389.3 270.9,404.5 243,411.9" fill="#7cb0e2" stroke="#000" stroke-width="2.1" stroke-linejoin="round"/><polygon points="243,411.9 270.9,404.5 278.2,420 249.8,427.3" fill="#f6b1b9" stroke="#000" stroke-width="2.1" stroke-linejoin="round"/><polygon points="245.4,278.3 269.4,270.7 269.2,283.6 244.7,291.2" fill="#f6b1b9" stroke="#000" stroke-width="2.1" stroke-linejoin="round"/><polygon points="244.7,291.2 269.2,283.6 269.8,296.7 244.9,304.3" fill="#7cb0e2" stroke="#000" stroke-width="2.1" stroke-linejoin="round"/><polygon points="244.9,304.3 269.8,296.7 271.3,310.2 246,317.8" fill="#f6b1b9" stroke="#000" stroke-width="2.1" stroke-linejoin="round"/><polygon points="246,317.8 271.3,310.2 273.7,324 247.9,331.5" fill="#7cb0e2" stroke="#000" stroke-width="2.1" stroke-linejoin="round"/><polygon points="247.9,331.5 273.7,324 276.9,338 250.8,345.5" fill="#f6b1b9" stroke="#000" stroke-width="2.1" stroke-linejoin="round"/><polygon points="250.8,345.5 276.9,338 281.1,352.4 254.5,359.8" fill="#7cb0e2" stroke="#000" stroke-width="2.1" stroke-linejoin="round"/><polygon points="254.5,359.8 281.1,352.4 286.1,367 259.1,374.4" fill="#f6b1b9" stroke="#000" stroke-width="2.1" stroke-linejoin="round"/><polygon points="259.1,374.4 286.1,367 292,381.9 264.6,389.3" fill="#7cb0e2" stroke="#000" stroke-width="2.1" stroke-linejoin="round"/><polygon points="264.6,389.3 292,381.9 298.8,397.1 270.9,404.5" fill="#f6b1b9" stroke="#000" stroke-width="2.1" stroke-linejoin="round"/><polygon points="270.9,404.5 298.8,397.1 306.5,412.6 278.2,420" fill="#7cb0e2" stroke="#000" stroke-width="2.1" stroke-linejoin="round"/><polygon points="278.2,420 306.5,412.6 315.1,428.4 286.3,435.7" fill="#f6b1b9" stroke="#000" stroke-width="2.1" stroke-linejoin="round"/><polygon points="270.6,258.1 294.1,250.4 293.4,263 269.4,270.7" fill="#f6b1b9" stroke="#000" stroke-width="2.1" stroke-linejoin="round"/><polygon points="269.4,270.7 293.4,263 293.5,275.9 269.2,283.6" fill="#7cb0e2" stroke="#000" stroke-width="2.1" stroke-linejoin="round"/><polygon points="269.2,283.6 293.5,275.9 294.6,289.1 269.8,296.7" fill="#f6b1b9" stroke="#000" stroke-width="2.1" stroke-linejoin="round"/><polygon points="269.8,296.7 294.6,289.1 296.5,302.6 271.3,310.2" fill="#7cb0e2" stroke="#000" stroke-width="2.1" stroke-linejoin="round"/><polygon points="271.3,310.2 296.5,302.6 299.3,316.4 273.7,324" fill="#f6b1b9" stroke="#000" stroke-width="2.1" stroke-linejoin="round"/><polygon points="273.7,324 299.3,316.4 303,330.5 276.9,338" fill="#7cb0e2" stroke="#000" stroke-width="2.1" stroke-linejoin="round"/><polygon points="276.9,338 303,330.5 307.6,344.9 281.1,352.4" fill="#f6b1b9" stroke="#000" stroke-width="2.1" stroke-linejoin="round"/><polygon points="281.1,352.4 307.6,344.9 313,359.5 286.1,367" fill="#7cb0e2" stroke="#000" stroke-width="2.1" stroke-linejoin="round"/><polygon points="286.1,367 313,359.5 319.4,374.5 292,381.9" fill="#f6b1b9" stroke="#000" stroke-width="2.1" stroke-linejoin="round"/><polygon points="292,381.9 319.4,374.5 326.6,389.7 298.8,397.1" fill="#7cb0e2" stroke="#000" stroke-width="2.1" stroke-linejoin="round"/><polygon points="298.8,397.1 326.6,389.7 334.7,405.2 306.5,412.6" fill="#f6b1b9" stroke="#000" stroke-width="2.1" stroke-linejoin="round"/><polygon points="306.5,412.6 334.7,405.2 343.7,421 315.1,428.4" fill="#7cb0e2" stroke="#000" stroke-width="2.1" stroke-linejoin="round"/><polygon points="315.1,428.4 343.7,421 353.5,437.1 324.5,444.5" fill="#f6b1b9" stroke="#000" stroke-width="2.1" stroke-linejoin="round"/><polygon points="295.7,238.1 318.7,230.4 317.5,242.7 294.1,250.4" fill="#f6b1b9" stroke="#000" stroke-width="2.1" stroke-linejoin="round"/><polygon points="294.1,250.4 317.5,242.7 317.2,255.4 293.4,263" fill="#7cb0e2" stroke="#000" stroke-width="2.1" stroke-linejoin="round"/><polygon points="293.4,263 317.2,255.4 317.8,268.3 293.5,275.9" fill="#f6b1b9" stroke="#000" stroke-width="2.1" stroke-linejoin="round"/><polygon points="293.5,275.9 317.8,268.3 319.2,281.5 294.6,289.1" fill="#7cb0e2" stroke="#000" stroke-width="2.1" stroke-linejoin="round"/><polygon points="294.6,289.1 319.2,281.5 321.6,295 296.5,302.6" fill="#f6b1b9" stroke="#000" stroke-width="2.1" stroke-linejoin="round"/><polygon points="296.5,302.6 321.6,295 324.8,308.8 299.3,316.4" fill="#7cb0e2" stroke="#000" stroke-width="2.1" stroke-linejoin="round"/><polygon points="299.3,316.4 324.8,308.8 328.9,322.9 303,330.5" fill="#f6b1b9" stroke="#000" stroke-width="2.1" stroke-linejoin="round"/><polygon points="303,330.5 328.9,322.9 333.9,337.3 307.6,344.9" fill="#7cb0e2" stroke="#000" stroke-width="2.1" stroke-linejoin="round"/><polygon points="307.6,344.9 333.9,337.3 339.8,352 313,359.5" fill="#f6b1b9" stroke="#000" stroke-width="2.1" stroke-linejoin="round"/><polygon points="313,359.5 339.8,352 346.6,367 319.4,374.5" fill="#7cb0e2" stroke="#000" stroke-width="2.1" stroke-linejoin="round"/><polygon points="319.4,374.5 346.6,367 354.2,382.2 326.6,389.7" fill="#f6b1b9" stroke="#000" stroke-width="2.1" stroke-linejoin="round"/><polygon points="326.6,389.7 354.2,382.2 362.8,397.8 334.7,405.2" fill="#7cb0e2" stroke="#000" stroke-width="2.1" stroke-linejoin="round"/><polygon points="334.7,405.2 362.8,397.8 372.2,413.6 343.7,421" fill="#f6b1b9" stroke="#000" stroke-width="2.1" stroke-linejoin="round"/><polygon points="317.5,242.7 340.8,235 340.9,247.7 317.2,255.4" fill="#f6b1b9" stroke="#000" stroke-width="2.1" stroke-linejoin="round"/><polygon points="317.2,255.4 340.9,247.7 341.9,260.6 317.8,268.3" fill="#7cb0e2" stroke="#000" stroke-width="2.1" stroke-linejoin="round"/><polygon points="317.8,268.3 341.9,260.6 343.8,273.9 319.2,281.5" fill="#f6b1b9" stroke="#000" stroke-width="2.1" stroke-linejoin="round"/><polygon points="319.2,281.5 343.8,273.9 346.6,287.4 321.6,295" fill="#7cb0e2" stroke="#000" stroke-width="2.1" stroke-linejoin="round"/><polygon points="321.6,295 346.6,287.4 350.3,301.2 324.8,308.8" fill="#f6b1b9" stroke="#000" stroke-width="2.1" stroke-linejoin="round"/><polygon points="324.8,308.8 350.3,301.2 354.8,315.4 328.9,322.9" fill="#7cb0e2" stroke="#000" stroke-width="2.1" stroke-linejoin="round"/><polygon points="328.9,322.9 354.8,315.4 360.2,329.8 333.9,337.3" fill="#f6b1b9" stroke="#000" stroke-width="2.1" stroke-linejoin="round"/><polygon points="333.9,337.3 360.2,329.8 366.5,344.5 339.8,352" fill="#7cb0e2" stroke="#000" stroke-width="2.1" stroke-linejoin="round"/><polygon points="339.8,352 366.5,344.5 373.7,359.5 346.6,367" fill="#f6b1b9" stroke="#000" stroke-width="2.1" stroke-linejoin="round"/><polygon points="346.6,367 373.7,359.5 381.8,374.8 354.2,382.2" fill="#7cb0e2" stroke="#000" stroke-width="2.1" stroke-linejoin="round"/><polygon points="354.2,382.2 381.8,374.8 390.8,390.3 362.8,397.8" fill="#f6b1b9" stroke="#000" stroke-width="2.1" stroke-linejoin="round"/><polygon points="340.9,247.7 364.5,240 366,252.9 341.9,260.6" fill="#f6b1b9" stroke="#000" stroke-width="2.1" stroke-linejoin="round"/><polygon points="341.9,260.6 366,252.9 368.3,266.2 343.8,273.9" fill="#7cb0e2" stroke="#000" stroke-width="2.1" stroke-linejoin="round"/><polygon points="343.8,273.9 368.3,266.2 371.5,279.8 346.6,287.4" fill="#f6b1b9" stroke="#000" stroke-width="2.1" stroke-linejoin="round"/><polygon points="346.6,287.4 371.5,279.8 375.6,293.6 350.3,301.2" fill="#7cb0e2" stroke="#000" stroke-width="2.1" stroke-linejoin="round"/><polygon points="350.3,301.2 375.6,293.6 380.5,307.8 354.8,315.4" fill="#f6b1b9" stroke="#000" stroke-width="2.1" stroke-linejoin="round"/><polygon points="354.8,315.4 380.5,307.8 386.4,322.2 360.2,329.8" fill="#7cb0e2" stroke="#000" stroke-width="2.1" stroke-linejoin="round"/><polygon points="360.2,329.8 386.4,322.2 393.1,336.9 366.5,344.5" fill="#f6b1b9" stroke="#000" stroke-width="2.1" stroke-linejoin="round"/><polygon points="366.5,344.5 393.1,336.9 400.7,352 373.7,359.5" fill="#7cb0e2" stroke="#000" stroke-width="2.1" stroke-linejoin="round"/><polygon points="373.7,359.5 400.7,352 409.2,367.3 381.8,374.8" fill="#f6b1b9" stroke="#000" stroke-width="2.1" stroke-linejoin="round"/><polygon points="366,252.9 389.9,245.2 392.7,258.5 368.3,266.2" fill="#f6b1b9" stroke="#000" stroke-width="2.1" stroke-linejoin="round"/><polygon points="368.3,266.2 392.7,258.5 396.3,272.1 371.5,279.8" fill="#7cb0e2" stroke="#000" stroke-width="2.1" stroke-linejoin="round"/><polygon points="371.5,279.8 396.3,272.1 400.8,286 375.6,293.6" fill="#f6b1b9" stroke="#000" stroke-width="2.1" stroke-linejoin="round"/><polygon points="375.6,293.6 400.8,286 406.2,300.1 380.5,307.8" fill="#7cb0e2" stroke="#000" stroke-width="2.1" stroke-linejoin="round"/><polygon points="380.5,307.8 406.2,300.1 412.5,314.6 386.4,322.2" fill="#f6b1b9" stroke="#000" stroke-width="2.1" stroke-linejoin="round"/><polygon points="386.4,322.2 412.5,314.6 419.6,329.4 393.1,336.9" fill="#7cb0e2" stroke="#000" stroke-width="2.1" stroke-linejoin="round"/><polygon points="393.1,336.9 419.6,329.4 427.7,344.4 400.7,352" fill="#f6b1b9" stroke="#000" stroke-width="2.1" stroke-linejoin="round"/><polygon points="392.7,258.5 416.9,250.8 421,264.4 396.3,272.1" fill="#f6b1b9" stroke="#000" stroke-width="2.1" stroke-linejoin="round"/><polygon points="396.3,272.1 421,264.4 425.9,278.3 400.8,286" fill="#7cb0e2" stroke="#000" stroke-width="2.1" stroke-linejoin="round"/><polygon points="400.8,286 425.9,278.3 431.7,292.5 406.2,300.1" fill="#f6b1b9" stroke="#000" stroke-width="2.1" stroke-linejoin="round"/><polygon points="406.2,300.1 431.7,292.5 438.4,307 412.5,314.6" fill="#7cb0e2" stroke="#000" stroke-width="2.1" stroke-linejoin="round"/><polygon points="412.5,314.6 438.4,307 446,321.8 419.6,329.4" fill="#f6b1b9" stroke="#000" stroke-width="2.1" stroke-linejoin="round"/><polygon points="421,264.4 445.5,256.7 450.9,270.6 425.9,278.3" fill="#f6b1b9" stroke="#000" stroke-width="2.1" stroke-linejoin="round"/><polygon points="425.9,278.3 450.9,270.6 457.2,284.8 431.7,292.5" fill="#7cb0e2" stroke="#000" stroke-width="2.1" stroke-linejoin="round"/><polygon points="431.7,292.5 457.2,284.8 464.3,299.3 438.4,307" fill="#f6b1b9" stroke="#000" stroke-width="2.1" stroke-linejoin="round"/><polygon points="450.9,270.6 475.8,262.9 482.5,277.1 457.2,284.8" fill="#f6b1b9" stroke="#000" stroke-width="2.1" stroke-linejoin="round"/>
<path d="M256.3 116.9Q266.8 107.7 280.6 110.1L527.2 153.3Q539 155.3 531.7 164.8L381 360.2Q365.2 380.8 339.9 374.7L58.6 307.1Q43.1 303.4 55.1 292.8Z" fill="url(#gBezel)" stroke="#000" stroke-width="2.2" stroke-linejoin="round"/>
<path d="M276.5 125.3Q278 124 280 124.3L491.1 161.1Q496 162 492.9 165.9L345.4 350.5Q341 356 334.2 354.4L86.6 295Q85.6 294.8 86.3 294.1Z" fill="url(#gScreen)" stroke="#000" stroke-width="2"/>
<g transform="translate(106 311.2) rotate(12)"><path d="M-5.2 -2.6 A7 4.5 0 1 0 0 -4.5" stroke="#c4c4c4" stroke-width="2.1" fill="none" stroke-linecap="round" stroke-linejoin="round"/><path d="M-2.2 -6.3 L1.8 -4.6 L-2.2 -2.8 Z" fill="#c4c4c4" stroke="#c4c4c4" stroke-width="1.2" stroke-linejoin="round"/></g>
<g transform="translate(166.3 327) rotate(12)"><ellipse rx="6.9" ry="4" stroke="#c4c4c4" stroke-width="2.1" fill="none" stroke-linecap="round" stroke-linejoin="round"/><path d="M2.5 3.8 L3.2 6" stroke="#c4c4c4" stroke-width="2.1" fill="none" stroke-linecap="round" stroke-linejoin="round"/></g>
<g transform="translate(233 343.4) rotate(14)"><path d="M-4 3.8 A7 4.5 0 1 1 4.5 3.3 Q1.5 4.6 -0.8 1.2" stroke="#c4c4c4" stroke-width="2.1" fill="none" stroke-linecap="round" stroke-linejoin="round"/></g>
<g transform="translate(296 360) rotate(14)"><ellipse rx="7" ry="4.6" fill="#bdbdbd" stroke="#c4c4c4" stroke-width="1.2"/><ellipse cx="0.3" rx="2.8" ry="1.6" fill="#6a6a6a"/></g>
<polyline points="449.8,176.6 541,126.2 562,126.2" fill="none" stroke="#111" stroke-width="1.6"/>
<circle cx="449.8" cy="176.6" r="3.2" fill="#000"/>
<polyline points="432.1,318.2 537,292 560,292" fill="none" stroke="#111" stroke-width="1.6"/>
<circle cx="432.1" cy="318.2" r="3.2" fill="#000"/>
<polyline points="437.1,436.5 545,389 563,389" fill="none" stroke="#111" stroke-width="1.6"/>
<circle cx="437.1" cy="436.5" r="3.2" fill="#000"/>
<polyline points="419.4,509.3 516,488.7 562,488.7" fill="none" stroke="#111" stroke-width="1.6"/>
<circle cx="419.4" cy="509.3" r="3.2" fill="#000"/>
<g clip-path="url(#cCirc)">
<rect x="850" y="200" width="410" height="400" fill="#fff"/>
<polygon points="1020.8,234.2 1260.7,295.5 1097,640 820,640 820,497.4" fill="url(#gCircSheet)" stroke="#000" stroke-width="2"/>
<polyline points="1027.4,252.5 897.7,420 860,470" fill="none" stroke="#e8141b" stroke-width="3.2"/>
<polyline points="850,500.5 1090.3,582.5 1230,316" fill="none" stroke="#e8141b" stroke-width="3.2"/>
<polyline points="870,480 1065.4,552.2" fill="none" stroke="#0a14e6" stroke-width="3.2"/>
<line x1="938.4" y1="531" x2="931.1" y2="540.8" stroke="#e8141b" stroke-width="3" stroke-linecap="round"/>
<line x1="950.8" y1="512.3" x2="938.4" y2="531" stroke="#0a14e6" stroke-width="3"/>
<line x1="945.8" y1="509.7" x2="955.8" y2="513.3" stroke="#0a14e6" stroke-width="2.8"/>
<line x1="956" y1="537.2" x2="948.2" y2="546.5" stroke="#e8141b" stroke-width="3" stroke-linecap="round"/>
<line x1="964.8" y1="521.6" x2="956" y2="537.2" stroke="#0a14e6" stroke-width="3"/>
<line x1="959.8" y1="519" x2="969.8" y2="522.6" stroke="#0a14e6" stroke-width="2.8"/>
<line x1="972.6" y1="542.9" x2="965.8" y2="552.7" stroke="#e8141b" stroke-width="3" stroke-linecap="round"/>
<line x1="984.5" y1="523.7" x2="972.6" y2="542.9" stroke="#0a14e6" stroke-width="3"/>
<line x1="979.5" y1="521.1" x2="989.5" y2="524.7" stroke="#0a14e6" stroke-width="2.8"/>
<polygon points="876.3,467.8 899.3,458.1 902.1,477.6 878.6,487.4" fill="#f6b1b9" stroke="#000" stroke-width="2.4" stroke-linejoin="round"/><polygon points="897,439.3 919.5,429.8 922.3,448.6 899.3,458.1" fill="#f6b1b9" stroke="#000" stroke-width="2.4" stroke-linejoin="round"/><polygon points="899.3,458.1 922.3,448.6 925.7,468 902.1,477.6" fill="#7cb0e2" stroke="#000" stroke-width="2.4" stroke-linejoin="round"/><polygon points="902.1,477.6 925.7,468 929.8,488 905.5,497.7" fill="#f6b1b9" stroke="#000" stroke-width="2.4" stroke-linejoin="round"/><polygon points="917.2,411.7 939.2,402.5 942.1,420.6 919.5,429.8" fill="#f6b1b9" stroke="#000" stroke-width="2.4" stroke-linejoin="round"/><polygon points="919.5,429.8 942.1,420.6 945.5,439.3 922.3,448.6" fill="#7cb0e2" stroke="#000" stroke-width="2.4" stroke-linejoin="round"/><polygon points="922.3,448.6 945.5,439.3 949.5,458.6 925.7,468" fill="#f6b1b9" stroke="#000" stroke-width="2.4" stroke-linejoin="round"/><polygon points="925.7,468 949.5,458.6 954.1,478.5 929.8,488" fill="#7cb0e2" stroke="#000" stroke-width="2.4" stroke-linejoin="round"/><polygon points="929.8,488 954.1,478.5 959.3,499 934.4,508.6" fill="#f6b1b9" stroke="#000" stroke-width="2.4" stroke-linejoin="round"/><polygon points="937,385 958.5,376.1 961.4,393.5 939.2,402.5" fill="#f6b1b9" stroke="#000" stroke-width="2.4" stroke-linejoin="round"/><polygon points="939.2,402.5 961.4,393.5 964.8,411.5 942.1,420.6" fill="#7cb0e2" stroke="#000" stroke-width="2.4" stroke-linejoin="round"/><polygon points="942.1,420.6 964.8,411.5 968.9,430.1 945.5,439.3" fill="#f6b1b9" stroke="#000" stroke-width="2.4" stroke-linejoin="round"/><polygon points="945.5,439.3 968.9,430.1 973.5,449.3 949.5,458.6" fill="#7cb0e2" stroke="#000" stroke-width="2.4" stroke-linejoin="round"/><polygon points="949.5,458.6 973.5,449.3 978.7,469.1 954.1,478.5" fill="#f6b1b9" stroke="#000" stroke-width="2.4" stroke-linejoin="round"/><polygon points="954.1,478.5 978.7,469.1 984.5,489.5 959.3,499" fill="#7cb0e2" stroke="#000" stroke-width="2.4" stroke-linejoin="round"/><polygon points="959.3,499 984.5,489.5 990.8,510.5 965.1,520.1" fill="#f6b1b9" stroke="#000" stroke-width="2.4" stroke-linejoin="round"/><polygon points="956.3,359.3 977.4,350.6 980.2,367.3 958.5,376.1" fill="#f6b1b9" stroke="#000" stroke-width="2.4" stroke-linejoin="round"/><polygon points="958.5,376.1 980.2,367.3 983.7,384.6 961.4,393.5" fill="#0000ff" stroke="#000" stroke-width="2.4" stroke-linejoin="round"/><polygon points="961.4,393.5 983.7,384.6 987.7,402.5 964.8,411.5" fill="#f6b1b9" stroke="#000" stroke-width="2.4" stroke-linejoin="round"/><polygon points="964.8,411.5 987.7,402.5 992.3,421 968.9,430.1" fill="#7cb0e2" stroke="#000" stroke-width="2.4" stroke-linejoin="round"/><polygon points="968.9,430.1 992.3,421 997.5,440.1 973.5,449.3" fill="#f6b1b9" stroke="#000" stroke-width="2.4" stroke-linejoin="round"/><polygon points="973.5,449.3 997.5,440.1 1003.3,459.8 978.7,469.1" fill="#7cb0e2" stroke="#000" stroke-width="2.4" stroke-linejoin="round"/><polygon points="978.7,469.1 1003.3,459.8 1009.7,480.2 984.5,489.5" fill="#f6b1b9" stroke="#000" stroke-width="2.4" stroke-linejoin="round"/><polygon points="984.5,489.5 1009.7,480.2 1016.7,501.1 990.8,510.5" fill="#7cb0e2" stroke="#000" stroke-width="2.4" stroke-linejoin="round"/><polygon points="990.8,510.5 1016.7,501.1 1024.2,522.7 997.8,532.2" fill="#ff0000" stroke="#000" stroke-width="2.4" stroke-linejoin="round"/><polygon points="975.1,334.6 995.8,326.1 998.6,342.1 977.4,350.6" fill="#f6b1b9" stroke="#000" stroke-width="2.4" stroke-linejoin="round"/><polygon points="977.4,350.6 998.6,342.1 1002.1,358.7 980.2,367.3" fill="#7cb0e2" stroke="#000" stroke-width="2.4" stroke-linejoin="round"/><polygon points="980.2,367.3 1002.1,358.7 1006.1,375.9 983.7,384.6" fill="#f6b1b9" stroke="#000" stroke-width="2.4" stroke-linejoin="round"/><polygon points="983.7,384.6 1006.1,375.9 1010.8,393.7 987.7,402.5" fill="#0000ff" stroke="#000" stroke-width="2.4" stroke-linejoin="round"/><polygon points="987.7,402.5 1010.8,393.7 1016,412.1 992.3,421" fill="#f6b1b9" stroke="#000" stroke-width="2.4" stroke-linejoin="round"/><polygon points="992.3,421 1016,412.1 1021.8,431.1 997.5,440.1" fill="#7cb0e2" stroke="#000" stroke-width="2.4" stroke-linejoin="round"/><polygon points="997.5,440.1 1021.8,431.1 1028.1,450.8 1003.3,459.8" fill="#f6b1b9" stroke="#000" stroke-width="2.4" stroke-linejoin="round"/><polygon points="1003.3,459.8 1028.1,450.8 1035.1,471 1009.7,480.2" fill="#7cb0e2" stroke="#000" stroke-width="2.4" stroke-linejoin="round"/><polygon points="1009.7,480.2 1035.1,471 1042.7,491.9 1016.7,501.1" fill="#ff0000" stroke="#000" stroke-width="2.4" stroke-linejoin="round"/><polygon points="1016.7,501.1 1042.7,491.9 1050.8,513.3 1024.2,522.7" fill="#7cb0e2" stroke="#000" stroke-width="2.4" stroke-linejoin="round"/><polygon points="1024.2,522.7 1050.8,513.3 1059.5,535.4 1032.4,544.9" fill="#f6b1b9" stroke="#000" stroke-width="2.4" stroke-linejoin="round"/><polygon points="993.5,310.7 1013.7,302.5 1016.6,317.8 995.8,326.1" fill="#f6b1b9" stroke="#000" stroke-width="2.4" stroke-linejoin="round"/><polygon points="995.8,326.1 1016.6,317.8 1020,333.7 998.6,342.1" fill="#7cb0e2" stroke="#000" stroke-width="2.4" stroke-linejoin="round"/><polygon points="998.6,342.1 1020,333.7 1024.1,350.2 1002.1,358.7" fill="#f6b1b9" stroke="#000" stroke-width="2.4" stroke-linejoin="round"/><polygon points="1002.1,358.7 1024.1,350.2 1028.7,367.3 1006.1,375.9" fill="#7cb0e2" stroke="#000" stroke-width="2.4" stroke-linejoin="round"/><polygon points="1006.1,375.9 1028.7,367.3 1033.9,385 1010.8,393.7" fill="#f6b1b9" stroke="#000" stroke-width="2.4" stroke-linejoin="round"/><polygon points="1010.8,393.7 1033.9,385 1039.7,403.3 1016,412.1" fill="#0000ff" stroke="#000" stroke-width="2.4" stroke-linejoin="round"/><polygon points="1016,412.1 1039.7,403.3 1046.1,422.3 1021.8,431.1" fill="#f6b1b9" stroke="#000" stroke-width="2.4" stroke-linejoin="round"/><polygon points="1021.8,431.1 1046.1,422.3 1053.1,441.8 1028.1,450.8" fill="#7cb0e2" stroke="#000" stroke-width="2.4" stroke-linejoin="round"/><polygon points="1028.1,450.8 1053.1,441.8 1060.7,462 1035.1,471" fill="#ff0000" stroke="#000" stroke-width="2.4" stroke-linejoin="round"/><polygon points="1035.1,471 1060.7,462 1068.8,482.8 1042.7,491.9" fill="#7cb0e2" stroke="#000" stroke-width="2.4" stroke-linejoin="round"/><polygon points="1042.7,491.9 1068.8,482.8 1077.5,504.1 1050.8,513.3" fill="#f6b1b9" stroke="#000" stroke-width="2.4" stroke-linejoin="round"/><polygon points="1050.8,513.3 1077.5,504.1 1086.9,526.1 1059.5,535.4" fill="#7cb0e2" stroke="#000" stroke-width="2.4" stroke-linejoin="round"/><polygon points="1059.5,535.4 1086.9,526.1 1096.8,548.7 1068.8,558.1" fill="#f6b1b9" stroke="#000" stroke-width="2.4" stroke-linejoin="round"/><polygon points="1011.4,287.9 1031.2,279.9 1034,294.5 1013.7,302.5" fill="#f6b1b9" stroke="#000" stroke-width="2.4" stroke-linejoin="round"/><polygon points="1013.7,302.5 1034,294.5 1037.5,309.7 1016.6,317.8" fill="#7cb0e2" stroke="#000" stroke-width="2.4" stroke-linejoin="round"/><polygon points="1016.6,317.8 1037.5,309.7 1041.6,325.5 1020,333.7" fill="#f6b1b9" stroke="#000" stroke-width="2.4" stroke-linejoin="round"/><polygon points="1020,333.7 1041.6,325.5 1046.2,341.9 1024.1,350.2" fill="#7cb0e2" stroke="#000" stroke-width="2.4" stroke-linejoin="round"/><polygon points="1024.1,350.2 1046.2,341.9 1051.4,358.9 1028.7,367.3" fill="#f6b1b9" stroke="#000" stroke-width="2.4" stroke-linejoin="round"/><polygon points="1028.7,367.3 1051.4,358.9 1057.2,376.5 1033.9,385" fill="#7cb0e2" stroke="#000" stroke-width="2.4" stroke-linejoin="round"/><polygon points="1033.9,385 1057.2,376.5 1063.6,394.7 1039.7,403.3" fill="#f6b1b9" stroke="#000" stroke-width="2.4" stroke-linejoin="round"/><polygon points="1039.7,403.3 1063.6,394.7 1070.6,413.6 1046.1,422.3" fill="#0000ff" stroke="#000" stroke-width="2.4" stroke-linejoin="round"/><polygon points="1046.1,422.3 1070.6,413.6 1078.2,433 1053.1,441.8" fill="#ff0000" stroke="#000" stroke-width="2.4" stroke-linejoin="round"/><polygon points="1053.1,441.8 1078.2,433 1086.3,453.1 1060.7,462" fill="#7cb0e2" stroke="#000" stroke-width="2.4" stroke-linejoin="round"/><polygon points="1060.7,462 1086.3,453.1 1095.1,473.8 1068.8,482.8" fill="#f6b1b9" stroke="#000" stroke-width="2.4" stroke-linejoin="round"/><polygon points="1068.8,482.8 1095.1,473.8 1104.4,495.1 1077.5,504.1" fill="#7cb0e2" stroke="#000" stroke-width="2.4" stroke-linejoin="round"/><polygon points="1077.5,504.1 1104.4,495.1 1114.3,517 1086.9,526.1" fill="#f6b1b9" stroke="#000" stroke-width="2.4" stroke-linejoin="round"/><polygon points="1028.9,265.9 1048.2,258.2 1051.1,272.1 1031.2,279.9" fill="#f6b1b9" stroke="#000" stroke-width="2.4" stroke-linejoin="round"/><polygon points="1031.2,279.9 1051.1,272.1 1054.5,286.6 1034,294.5" fill="#7cb0e2" stroke="#000" stroke-width="2.4" stroke-linejoin="round"/><polygon points="1034,294.5 1054.5,286.6 1058.6,301.7 1037.5,309.7" fill="#f6b1b9" stroke="#000" stroke-width="2.4" stroke-linejoin="round"/><polygon points="1037.5,309.7 1058.6,301.7 1063.2,317.4 1041.6,325.5" fill="#7cb0e2" stroke="#000" stroke-width="2.4" stroke-linejoin="round"/><polygon points="1041.6,325.5 1063.2,317.4 1068.5,333.7 1046.2,341.9" fill="#f6b1b9" stroke="#000" stroke-width="2.4" stroke-linejoin="round"/><polygon points="1046.2,341.9 1068.5,333.7 1074.3,350.6 1051.4,358.9" fill="#7cb0e2" stroke="#000" stroke-width="2.4" stroke-linejoin="round"/><polygon points="1051.4,358.9 1074.3,350.6 1080.7,368.1 1057.2,376.5" fill="#f6b1b9" stroke="#000" stroke-width="2.4" stroke-linejoin="round"/><polygon points="1057.2,376.5 1080.7,368.1 1087.7,386.3 1063.6,394.7" fill="#7cb0e2" stroke="#000" stroke-width="2.4" stroke-linejoin="round"/><polygon points="1063.6,394.7 1087.7,386.3 1095.2,405.1 1070.6,413.6" fill="#ff0000" stroke="#000" stroke-width="2.4" stroke-linejoin="round"/><polygon points="1070.6,413.6 1095.2,405.1 1103.4,424.4 1078.2,433" fill="#0000ff" stroke="#000" stroke-width="2.4" stroke-linejoin="round"/><polygon points="1078.2,433 1103.4,424.4 1112.2,444.4 1086.3,453.1" fill="#f6b1b9" stroke="#000" stroke-width="2.4" stroke-linejoin="round"/><polygon points="1086.3,453.1 1112.2,444.4 1121.5,465 1095.1,473.8" fill="#7cb0e2" stroke="#000" stroke-width="2.4" stroke-linejoin="round"/><polygon points="1095.1,473.8 1121.5,465 1131.4,486.2 1104.4,495.1" fill="#f6b1b9" stroke="#000" stroke-width="2.4" stroke-linejoin="round"/><polygon points="1051.1,272.1 1071.1,264.4 1075.2,278.8 1054.5,286.6" fill="#f6b1b9" stroke="#000" stroke-width="2.4" stroke-linejoin="round"/><polygon points="1054.5,286.6 1075.2,278.8 1079.8,293.8 1058.6,301.7" fill="#7cb0e2" stroke="#000" stroke-width="2.4" stroke-linejoin="round"/><polygon points="1058.6,301.7 1079.8,293.8 1085,309.4 1063.2,317.4" fill="#f6b1b9" stroke="#000" stroke-width="2.4" stroke-linejoin="round"/><polygon points="1063.2,317.4 1085,309.4 1090.9,325.7 1068.5,333.7" fill="#7cb0e2" stroke="#000" stroke-width="2.4" stroke-linejoin="round"/><polygon points="1068.5,333.7 1090.9,325.7 1097.3,342.5 1074.3,350.6" fill="#f6b1b9" stroke="#000" stroke-width="2.4" stroke-linejoin="round"/><polygon points="1074.3,350.6 1097.3,342.5 1104.3,359.9 1080.7,368.1" fill="#7cb0e2" stroke="#000" stroke-width="2.4" stroke-linejoin="round"/><polygon points="1080.7,368.1 1104.3,359.9 1111.9,378 1087.7,386.3" fill="#ff0000" stroke="#000" stroke-width="2.4" stroke-linejoin="round"/><polygon points="1087.7,386.3 1111.9,378 1120,396.7 1095.2,405.1" fill="#7cb0e2" stroke="#000" stroke-width="2.4" stroke-linejoin="round"/><polygon points="1095.2,405.1 1120,396.7 1128.8,415.9 1103.4,424.4" fill="#f6b1b9" stroke="#000" stroke-width="2.4" stroke-linejoin="round"/><polygon points="1103.4,424.4 1128.8,415.9 1138.1,435.8 1112.2,444.4" fill="#0000ff" stroke="#000" stroke-width="2.4" stroke-linejoin="round"/><polygon points="1112.2,444.4 1138.1,435.8 1148,456.3 1121.5,465" fill="#f6b1b9" stroke="#000" stroke-width="2.4" stroke-linejoin="round"/><polygon points="1075.2,278.8 1095.9,271.2 1101.2,286.1 1079.8,293.8" fill="#f6b1b9" stroke="#000" stroke-width="2.4" stroke-linejoin="round"/><polygon points="1079.8,293.8 1101.2,286.1 1107,301.6 1085,309.4" fill="#7cb0e2" stroke="#000" stroke-width="2.4" stroke-linejoin="round"/><polygon points="1085,309.4 1107,301.6 1113.4,317.8 1090.9,325.7" fill="#f6b1b9" stroke="#000" stroke-width="2.4" stroke-linejoin="round"/><polygon points="1090.9,325.7 1113.4,317.8 1120.4,334.5 1097.3,342.5" fill="#7cb0e2" stroke="#000" stroke-width="2.4" stroke-linejoin="round"/><polygon points="1097.3,342.5 1120.4,334.5 1128,351.9 1104.3,359.9" fill="#ff0000" stroke="#000" stroke-width="2.4" stroke-linejoin="round"/><polygon points="1104.3,359.9 1128,351.9 1136.2,369.9 1111.9,378" fill="#7cb0e2" stroke="#000" stroke-width="2.4" stroke-linejoin="round"/><polygon points="1111.9,378 1136.2,369.9 1144.9,388.4 1120,396.7" fill="#f6b1b9" stroke="#000" stroke-width="2.4" stroke-linejoin="round"/><polygon points="1120,396.7 1144.9,388.4 1154.3,407.6 1128.8,415.9" fill="#7cb0e2" stroke="#000" stroke-width="2.4" stroke-linejoin="round"/><polygon points="1128.8,415.9 1154.3,407.6 1164.2,427.4 1138.1,435.8" fill="#f6b1b9" stroke="#000" stroke-width="2.4" stroke-linejoin="round"/><polygon points="1101.2,286.1 1122.7,278.6 1129.1,294 1107,301.6" fill="#f6b1b9" stroke="#000" stroke-width="2.4" stroke-linejoin="round"/><polygon points="1107,301.6 1129.1,294 1136.1,310.1 1113.4,317.8" fill="#7cb0e2" stroke="#000" stroke-width="2.4" stroke-linejoin="round"/><polygon points="1113.4,317.8 1136.1,310.1 1143.7,326.7 1120.4,334.5" fill="#ff0000" stroke="#000" stroke-width="2.4" stroke-linejoin="round"/><polygon points="1120.4,334.5 1143.7,326.7 1151.9,344 1128,351.9" fill="#7cb0e2" stroke="#000" stroke-width="2.4" stroke-linejoin="round"/><polygon points="1128,351.9 1151.9,344 1160.6,361.9 1136.2,369.9" fill="#f6b1b9" stroke="#000" stroke-width="2.4" stroke-linejoin="round"/><polygon points="1136.2,369.9 1160.6,361.9 1170,380.4 1144.9,388.4" fill="#7cb0e2" stroke="#000" stroke-width="2.4" stroke-linejoin="round"/><polygon points="1144.9,388.4 1170,380.4 1179.9,399.4 1154.3,407.6" fill="#f6b1b9" stroke="#000" stroke-width="2.4" stroke-linejoin="round"/><polygon points="1129.1,294 1151.3,286.5 1158.9,302.5 1136.1,310.1" fill="#ff0000" stroke="#000" stroke-width="2.4" stroke-linejoin="round"/><polygon points="1136.1,310.1 1158.9,302.5 1167.1,319.1 1143.7,326.7" fill="#7cb0e2" stroke="#000" stroke-width="2.4" stroke-linejoin="round"/><polygon points="1143.7,326.7 1167.1,319.1 1175.9,336.2 1151.9,344" fill="#f6b1b9" stroke="#000" stroke-width="2.4" stroke-linejoin="round"/><polygon points="1151.9,344 1175.9,336.2 1185.3,354 1160.6,361.9" fill="#7cb0e2" stroke="#000" stroke-width="2.4" stroke-linejoin="round"/><polygon points="1160.6,361.9 1185.3,354 1195.2,372.4 1170,380.4" fill="#f6b1b9" stroke="#000" stroke-width="2.4" stroke-linejoin="round"/><polygon points="1158.9,302.5 1181.9,295.1 1190.7,311.6 1167.1,319.1" fill="#f6b1b9" stroke="#000" stroke-width="2.4" stroke-linejoin="round"/><polygon points="1167.1,319.1 1190.7,311.6 1200,328.6 1175.9,336.2" fill="#7cb0e2" stroke="#000" stroke-width="2.4" stroke-linejoin="round"/><polygon points="1175.9,336.2 1200,328.6 1210,346.3 1185.3,354" fill="#f6b1b9" stroke="#000" stroke-width="2.4" stroke-linejoin="round"/><polygon points="1190.7,311.6 1214.4,304.2 1224.3,321.2 1200,328.6" fill="#f6b1b9" stroke="#000" stroke-width="2.4" stroke-linejoin="round"/>
<path d="M1260 352 L1231.8 354 C1215 356 1190 360 1158.8 367.2 C1140 372 1120 380 1096.6 388.2 C1085 391 1075 394 1068.6 397.5 C1063 400 1062 409 1070.2 413 C1078 417 1100 417 1127.7 414.6 C1150 411 1174 405.3 1174.3 405.3 C1190 401 1215 396 1236.5 394.4 L1260 394 Z" fill="#fce5b4" stroke="#000" stroke-width="2.2" stroke-linejoin="round"/>
<path d="M1071 399.8 C1080 395 1095 391 1105.2 389.7 C1104.5 395 1104.5 400 1103.6 403 C1096 405 1090 406 1084.2 406.8 C1077 407.5 1071 405 1071 399.8 Z" fill="#fff" stroke="#000" stroke-width="1.8" stroke-linejoin="round"/>
</g>
<path d="M903.6 279.6 A188 188 0 1 1 885.8 305.7 L749.8 292.9 Z" fill="none" stroke="#000" stroke-width="2" stroke-linejoin="miter"/>
<text x="514" y="68" font-family="Liberation Serif, serif" font-size="64" fill="#111" stroke="#111" stroke-width="0.8" textLength="267" lengthAdjust="spacingAndGlyphs">Touch Screen</text>
<text x="570.6" y="137.3" font-family="Liberation Serif, serif" font-size="27.5" fill="#1c1c1c" textLength="133.6" lengthAdjust="spacingAndGlyphs">Cover Glass</text>
<text x="570" y="167.2" font-family="Liberation Serif, serif" font-size="27.5" fill="#1c1c1c" textLength="434" lengthAdjust="spacingAndGlyphs">(Anti-Reflection + Anti-Fouling Film)</text>
<text x="570.6" y="301" font-family="Liberation Serif, serif" font-size="27.5" fill="#1c1c1c" textLength="170.4" lengthAdjust="spacingAndGlyphs">Touch Sensors</text>
<text x="569.8" y="398" font-family="Liberation Serif, serif" font-size="27.5" fill="#1c1c1c" textLength="116.6" lengthAdjust="spacingAndGlyphs">LCD Panel</text>
<text x="569.8" y="496.5" font-family="Liberation Serif, serif" font-size="27.5" fill="#1c1c1c" textLength="53.2" lengthAdjust="spacingAndGlyphs">Case</text>
<text x="939.7" y="611.4" font-family="Liberation Serif, serif" font-size="27.5" fill="#1c1c1c" textLength="205.8" lengthAdjust="spacingAndGlyphs">Concept Of Touch</text>
<text x="936.8" y="640.4" font-family="Liberation Serif, serif" font-size="27.5" fill="#1c1c1c" textLength="212.4" lengthAdjust="spacingAndGlyphs">Position Detection</text></svg></body></html>
